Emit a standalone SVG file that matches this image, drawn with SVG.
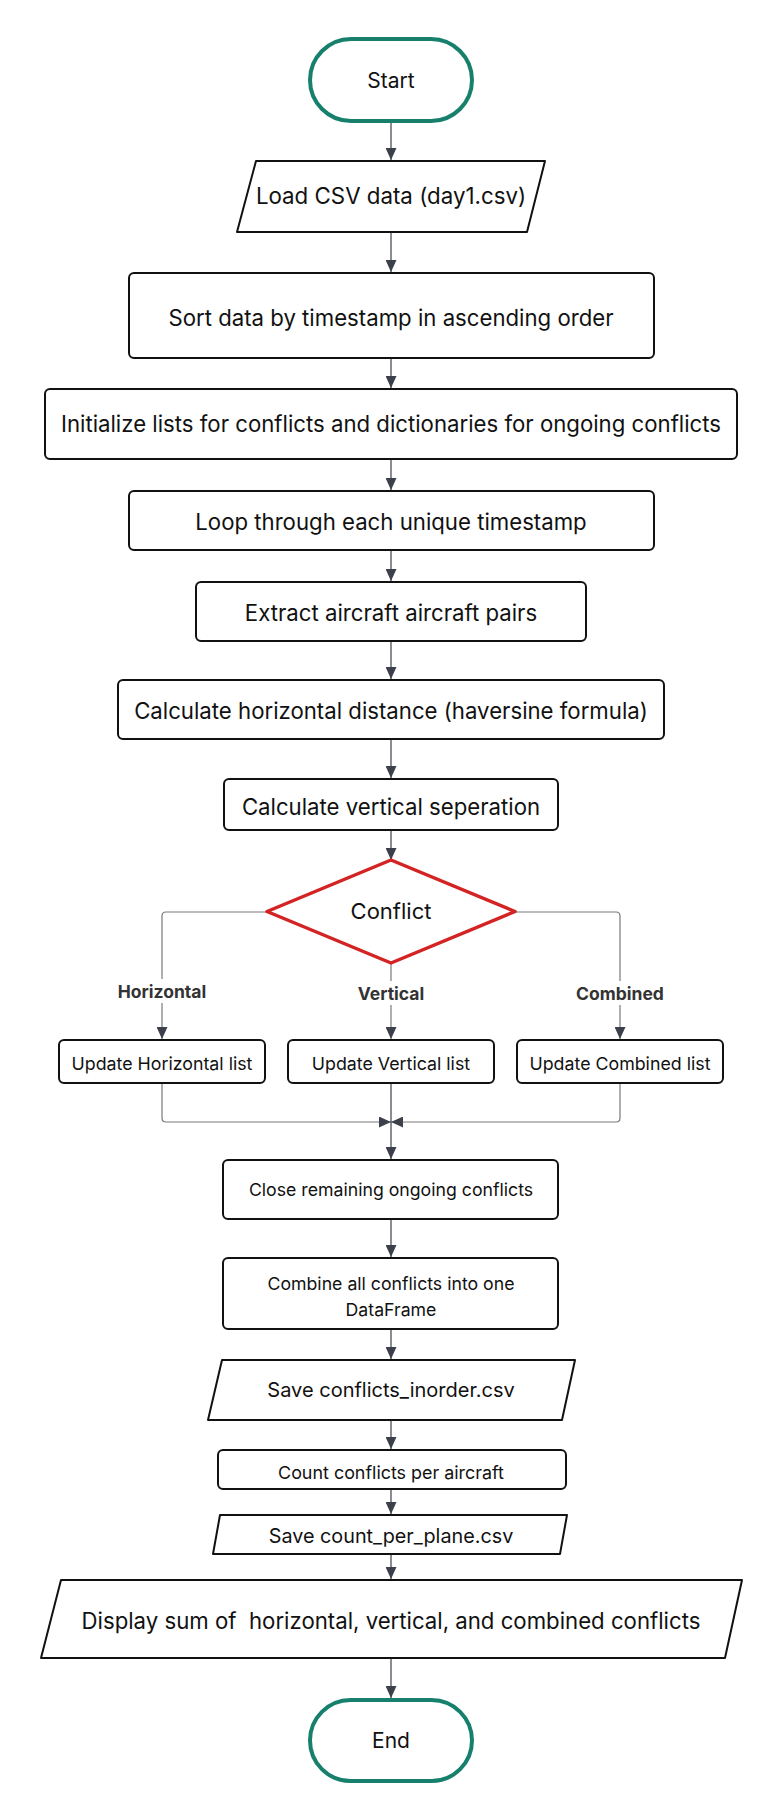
<svg xmlns="http://www.w3.org/2000/svg" width="784" height="1820" viewBox="0 0 784 1820">
<style>
.box{fill:#fff;stroke:#111;stroke-width:2;stroke-linejoin:round}
.term{fill:#fff;stroke:#17806d;stroke-width:4}
.dec{fill:#fff;stroke:#d42323;stroke-width:3.5;stroke-linejoin:round}
.t{font-family:Inter,"Noto Sans","Liberation Sans",sans-serif;fill:#111;text-anchor:middle}
.lbl{font-family:Inter,"Noto Sans","Liberation Sans",sans-serif;fill:#333;text-anchor:middle;font-weight:bold;font-size:17.5px}
.arr{fill:none;stroke:#3c404b;stroke-width:1.2;marker-end:url(#ah)}
.br{fill:none;stroke:#7a7a7a;stroke-width:1.2}
.bra{fill:none;stroke:#7a7a7a;stroke-width:1.2;marker-end:url(#ah)}
</style>
<defs>
<marker id="ah" markerUnits="userSpaceOnUse" markerWidth="12" markerHeight="11" refX="12" refY="5.5" orient="auto">
<path d="M0,0 L12,5.5 L0,11 z" fill="#3c404b"/>
</marker>
</defs>
<rect width="784" height="1820" fill="#fff"/>
<g id="connectors">
<line class="arr" x1="391" y1="121" x2="391" y2="160"/>
<line class="arr" x1="391" y1="232" x2="391" y2="272"/>
<line class="arr" x1="391" y1="358" x2="391" y2="388"/>
<line class="arr" x1="391" y1="459" x2="391" y2="490"/>
<line class="arr" x1="391" y1="550" x2="391" y2="581"/>
<line class="arr" x1="391" y1="641" x2="391" y2="679"/>
<line class="arr" x1="391" y1="739" x2="391" y2="778"/>
<line class="arr" x1="391" y1="830" x2="391" y2="860"/>
<path class="bra" d="M267,912 H166 Q162,912 162,916 V1039"/>
<path class="bra" d="M391,963 V1039"/>
<path class="bra" d="M515,912 H616 Q620,912 620,916 V1039"/>
<path class="bra" d="M162,1083 V1118 Q162,1122 166,1122 H391"/>
<path class="bra" d="M620,1083 V1118 Q620,1122 616,1122 H391"/>
<path class="arr" d="M391,1083 V1159"/>
<line class="arr" x1="391" y1="1219" x2="391" y2="1257"/>
<line class="arr" x1="391" y1="1329" x2="391" y2="1359"/>
<line class="arr" x1="391" y1="1420" x2="391" y2="1449"/>
<line class="arr" x1="391" y1="1489" x2="391" y2="1514"/>
<line class="arr" x1="391" y1="1554" x2="391" y2="1579"/>
<line class="arr" x1="391" y1="1658" x2="391" y2="1698"/>
<rect x="112" y="979" width="100" height="24" fill="#fff"/>
<text class="lbl" x="162" y="998">Horizontal</text>
<rect x="354" y="981" width="74" height="24" fill="#fff"/>
<text class="lbl" x="391" y="1000">Vertical</text>
<rect x="574" y="981" width="92" height="24" fill="#fff"/>
<text class="lbl" x="620" y="1000">Combined</text>
</g>
<g id="start">
<rect class="term" x="310" y="39" width="162" height="82" rx="41"/>
<text class="t" x="391" y="88" font-size="21">Start</text>
</g>
<g id="load">
<path class="box" d="M256,161 H545 L527,232 H237 Z"/>
<text class="t" x="391" y="204" font-size="22.3">Load CSV data (day1.csv)</text>
</g>
<g id="sort">
<rect class="box" x="129" y="273" width="525" height="85" rx="5"/>
<text class="t" x="391" y="326" font-size="22.2">Sort data by timestamp in ascending order</text>
</g>
<g id="init">
<rect class="box" x="45" y="389" width="692" height="70" rx="5"/>
<text class="t" x="391" y="432" font-size="22.2">Initialize lists for conflicts and dictionaries for ongoing conflicts</text>
</g>
<g id="loop">
<rect class="box" x="129" y="491" width="525" height="59" rx="5"/>
<text class="t" x="391" y="530" font-size="22.2">Loop through each unique timestamp</text>
</g>
<g id="extract">
<rect class="box" x="196" y="582" width="390" height="59" rx="5"/>
<text class="t" x="391" y="621" font-size="22.2">Extract aircraft aircraft pairs</text>
</g>
<g id="calc_h">
<rect class="box" x="118" y="680" width="546" height="59" rx="5"/>
<text class="t" x="391" y="719" font-size="22.2">Calculate horizontal distance (haversine formula)</text>
</g>
<g id="calc_v">
<rect class="box" x="224" y="779" width="334" height="51" rx="5"/>
<text class="t" x="391" y="815" font-size="22.2">Calculate vertical seperation</text>
</g>
<g id="conflict">
<path class="dec" d="M391,860 L515,911.5 L391,963 L267,911.5 Z"/>
<text class="t" x="391" y="919" font-size="22">Conflict</text>
</g>
<g id="upd_h">
<rect class="box" x="59" y="1040" width="206" height="43" rx="5"/>
<text class="t" x="162" y="1070" font-size="17.8">Update Horizontal list</text>
</g>
<g id="upd_v">
<rect class="box" x="288" y="1040" width="206" height="43" rx="5"/>
<text class="t" x="391" y="1070" font-size="17.8">Update Vertical list</text>
</g>
<g id="upd_c">
<rect class="box" x="517" y="1040" width="206" height="43" rx="5"/>
<text class="t" x="620" y="1070" font-size="17.8">Update Combined list</text>
</g>
<g id="close">
<rect class="box" x="223" y="1160" width="335" height="59" rx="5"/>
<text class="t" x="391" y="1196" font-size="17.7">Close remaining ongoing conflicts</text>
</g>
<g id="combine">
<rect class="box" x="223" y="1258" width="335" height="71" rx="5"/>
<text class="t" x="391" y="1290" font-size="17.7">Combine all conflicts into one</text>
<text class="t" x="391" y="1316" font-size="17.7">DataFrame</text>
</g>
<g id="save1">
<path class="box" d="M222,1360 H575 L562,1420 H208 Z"/>
<text class="t" x="391" y="1397" font-size="20">Save conflicts_inorder.csv</text>
</g>
<g id="count">
<rect class="box" x="218" y="1450" width="348" height="39" rx="5"/>
<text class="t" x="391" y="1479" font-size="17.9">Count conflicts per aircraft</text>
</g>
<g id="save2">
<path class="box" d="M220,1515 H567 L560,1554 H213 Z"/>
<text class="t" x="391" y="1543" font-size="19.8">Save count_per_plane.csv</text>
</g>
<g id="display">
<path class="box" d="M61,1580 H742 L725,1658 H41 Z"/>
<text class="t" x="391" y="1629" font-size="22.2">Display sum of&#160; horizontal, vertical, and combined conflicts</text>
</g>
<g id="end">
<rect class="term" x="310" y="1700" width="162" height="81" rx="40.5"/>
<text class="t" x="391" y="1748" font-size="21">End</text>
</g>
</svg>
